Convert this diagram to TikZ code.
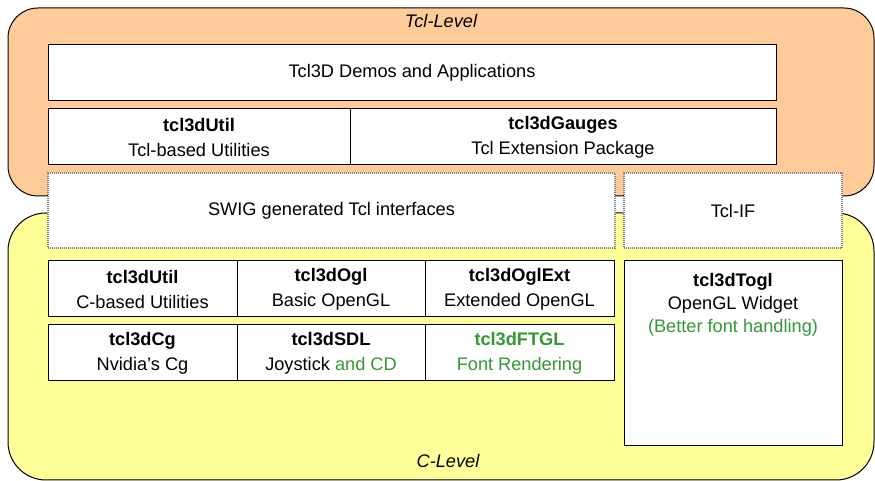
\documentclass[tikz,border=0pt]{standalone}
\usepackage{fontspec}
\setmainfont{Liberation Sans}
\usetikzlibrary{positioning}
\definecolor{tclorange}{RGB}{255,204,153}
\definecolor{clevelyellow}{RGB}{255,255,153}
\definecolor{tclgreen}{RGB}{51,153,51}
\tikzset{
  box/.style={draw=black,fill=white,line width=0.5pt,inner sep=0pt,align=center,minimum height=28pt},
  ifbox/.style={draw=gray,dash pattern=on 0.5pt off 0.5pt,fill=white,line width=0.6pt,inner sep=0pt,align=center,minimum height=37.5pt},
  levelname/.style={font=\fontsize{9.1}{13}\selectfont\itshape}
}
\begin{document}
\begin{tikzpicture}[x=0.5pt,y=-0.5pt,font=\fontsize{9.1}{12.5}\selectfont]
        \useasboundingbox (0,0) rectangle (875,481);
        % the two levels
        \draw[fill=tclorange,line width=0.5pt,rounded corners=15pt] (8,8) rectangle (874,196);
        \draw[fill=clevelyellow,line width=0.5pt,rounded corners=19pt] (8,213) rectangle (874,480);
        \draw (441,21) node[levelname](tcllevel){Tcl-Level};
        \draw (448,461) node[levelname](clevel){C-Level};
        % Tcl level
        \draw (412,73) node[box,minimum width=364pt](demos){Tcl3D Demos and Applications};
        \draw (199,137) node[box,minimum width=151pt](tclutil){\textbf{tcl3dUtil}\\Tcl-based Utilities};
        \draw (563,137) node[box,minimum width=213pt](gauges){\textbf{tcl3dGauges}\\Tcl Extension Package};
        % interfaces
        \draw (331.5,210.5) node[ifbox,minimum width=283.5pt](swig){SWIG generated Tcl interfaces};
        \draw (733,210.5) node[ifbox,minimum width=109pt](tclif){Tcl-IF};
        % C level
        \draw (142.5,289) node[box,minimum width=94.5pt](cutil){\textbf{tcl3dUtil}\\C-based Utilities};
        \draw (331,289) node[box,minimum width=94pt](ogl){\textbf{tcl3dOgl}\\Basic OpenGL};
        \draw (519.5,289) node[box,minimum width=94.5pt](oglext){\textbf{tcl3dOglExt}\\Extended OpenGL};
        \draw (142.5,353) node[box,minimum width=94.5pt](cg){\textbf{tcl3dCg}\\Nvidia's Cg};
        \draw (331,353) node[box,minimum width=94pt](sdl){\textbf{tcl3dSDL}\\Joystick \textcolor{tclgreen}{and CD}};
        \draw (519.5,353) node[box,minimum width=94.5pt,text=tclgreen](ftgl){\textbf{tcl3dFTGL}\\Font Rendering};
        \draw (733,353.5) node[box,minimum width=109pt,minimum height=92.5pt](togl){};
        \node[below=6pt of togl.north,inner sep=0pt,align=center,font=\fontsize{9.1}{11.5}\selectfont](togltext)
          {\textbf{tcl3dTogl}\\OpenGL Widget\\\textcolor{tclgreen}{(Better font handling)}};
      \end{tikzpicture}
\end{document}
